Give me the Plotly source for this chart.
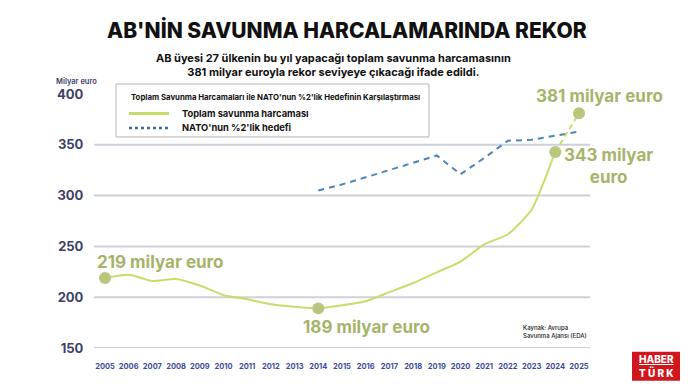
import plotly.graph_objects as go

years = list(range(2005, 2026))
spending = [219, 222, 216, 218, 211.5, 202, 198, 193, 190.5, 189, 192, 196,
            205, 214, 224.5, 235, 252, 262, 286, 343, 381]
nato_years = list(range(2014, 2026))
nato_target = [305, 311, 318, 325, 332, 339.5, 321, 337, 354, 355, 359, 363]
y_ticks = [150, 200, 250, 300, 350, 400]
grid_vals = [150, 200, 250, 300, 350]
highlight_years = [2005, 2014, 2024, 2025]

GREEN_LINE = "#c9dc6c"
GREEN_MARK = "#b9c77c"
GREEN_TEXT = "#a6b46a"
BLUE = "#4a86b8"
NAVY = "#3f4068"
FONT = "Inter"

fig = go.Figure()

# grid lines
for g in grid_vals:
    fig.add_shape(type="line", xref="paper", yref="y", x0=0, x1=1, y0=g, y1=g,
                  line=dict(color="#cdd1d8", width=2), layer="below")

# NATO target dashed line
fig.add_trace(go.Scatter(x=nato_years, y=nato_target, mode="lines",
                         line=dict(color=BLUE, width=2, dash="6px,5px"),
                         name="NATO'nun %2'lik hedefi", hoverinfo="skip"))

# solid spending line up to 2024
i24 = years.index(2024)
fig.add_trace(go.Scatter(x=years[:i24 + 1], y=spending[:i24 + 1], mode="lines",
                         line=dict(color=GREEN_LINE, width=2, shape="spline", smoothing=0.5),
                         name="Toplam savunma harcaması"))
# dashed projection 2024-2025
fig.add_trace(go.Scatter(x=years[i24:], y=spending[i24:], mode="lines",
                         line=dict(color=GREEN_LINE, width=2, dash="5px,4px"),
                         showlegend=False))
# highlight markers
hx = highlight_years
hy = [spending[years.index(y)] for y in hx]
fig.add_trace(go.Scatter(x=hx, y=hy, mode="markers",
                         marker=dict(color=GREEN_MARK, size=12), showlegend=False))

ann = []
def A(text, x, y, size, color, xanchor="center", yanchor="middle", weight=700, align="center"):
    ann.append(dict(text=text, x=x, y=y, xref="paper", yref="paper", showarrow=False,
                    xanchor=xanchor, yanchor=yanchor, align=align,
                    font=dict(family=FONT, size=size, color=color, weight=weight)))

W, H = 695, 392
L, R, T, B = 94, 105, 94, 43.7
pw, ph = W - L - R, H - T - B
def px(x):
    return (x - L) / pw
def py(y):
    return (H - B - y) / ph

A("AB'NİN SAVUNMA HARCALAMARINDA REKOR", px(347), py(30), 21, "#111111", weight=800)
A("AB üyesi 27 ülkenin bu yıl yapacağı toplam savunma harcamasının<br>381 milyar euroyla rekor seviyeye çıkacağı ifade edildi.",
  px(333), py(65), 11, "#111111", weight=700)
A("Milyar euro", px(76), py(81), 7.5, NAVY, weight=600)

A("219 milyar euro", px(160), py(262), 17, GREEN_TEXT)
A("189 milyar euro", px(366), py(327), 17, GREEN_TEXT)
A("381 milyar euro", px(599), py(96), 17, GREEN_TEXT)
A("343 milyar<br>euro", px(608), py(166), 17, GREEN_TEXT)
A("Kaynak: Avrupa<br>Savunma Ajansı (EDA)", px(521), py(332), 6, "#222222", xanchor="left", align="left", weight=500)

# legend box (drawn)
shapes = []
shapes.append(dict(type="rect", xref="paper", yref="paper", x0=px(116), x1=px(429), y0=py(84), y1=py(137),
                   line=dict(color="#b5b5b5", width=1), fillcolor="white"))
shapes.append(dict(type="line", xref="paper", yref="paper", x0=px(129), x1=px(169), y0=py(113.5), y1=py(113.5),
                   line=dict(color=GREEN_LINE, width=3)))
shapes.append(dict(type="line", xref="paper", yref="paper", x0=px(129), x1=px(171), y0=py(128), y1=py(128),
                   line=dict(color="#3e6f99", width=2.5, dash="dot")))
A("Toplam Savunma Harcamaları ile NATO'nun %2'lik Hedefinin Karşılaştırması", px(129), py(97.5), 7.8, "#111111", xanchor="left", weight=700)
A("Toplam savunma harcaması", px(180), py(113.5), 9.3, "#111111", xanchor="left", weight=700)
A("NATO'nun %2'lik hedefi", px(180), py(128), 9.3, "#111111", xanchor="left", weight=700)

# logo
shapes.append(dict(type="rect", xref="paper", yref="paper", x0=px(632), x1=px(680), y0=py(352), y1=py(381),
                   line=dict(width=0), fillcolor="#d2161e"))
A("<u>HABER</u>", px(656), py(359.5), 10, "white", weight=800)
A("T Ü R K", px(656), py(372.5), 10, "white", weight=800)

for s in shapes:
    fig.add_shape(**s)

fig.update_layout(
    width=W, height=H,
    margin=dict(l=L, r=R, t=T, b=B),
    paper_bgcolor="white", plot_bgcolor="white",
    showlegend=False,
    hovermode=False,
    annotations=ann,
    xaxis=dict(range=[2004.536, 2025.464], tickvals=years, ticktext=[str(y) for y in years],
               showgrid=False, zeroline=False, showline=False, fixedrange=True,
               ticks="outside", ticklen=11, tickcolor="rgba(0,0,0,0)",
               tickfont=dict(family=FONT, size=7.5, color="#3b4a9e", weight=700)),
    yaxis=dict(range=[150, 400], tickvals=y_ticks, showgrid=False, zeroline=False, showline=False,
               fixedrange=True,
               ticks="outside", ticklen=7, tickcolor="rgba(0,0,0,0)",
               tickfont=dict(family=FONT, size=13, color=NAVY, weight=700)),
)

fig.write_html("out.html", config={"displayModeBar": False})

# remove default page margin so the figure sits at the window origin
with open("out.html", encoding="utf-8") as f:
    html = f.read()
html = html.replace("<head>", "<head><style>html,body{margin:0;padding:0;overflow:hidden;}</style>", 1)
with open("out.html", "w", encoding="utf-8") as f:
    f.write(html)
